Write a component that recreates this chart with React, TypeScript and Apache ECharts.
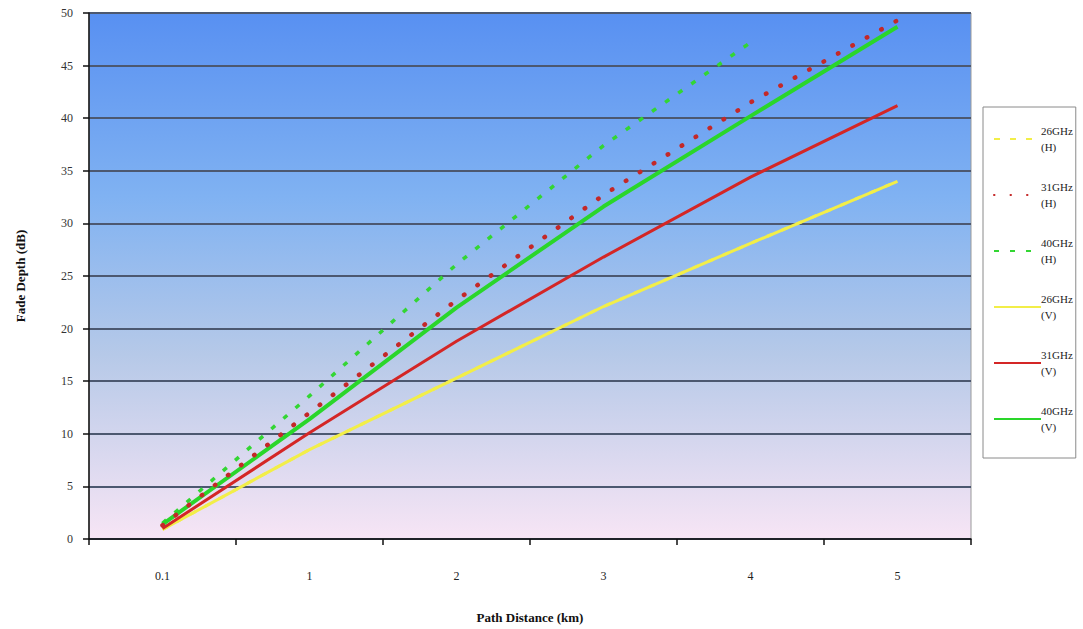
import React, { useEffect, useRef } from "react";
import * as echarts from "echarts";

const categories = ["0.1", "1", "2", "3", "4", "5"];
const seriesNames = ["26GHz\n(H)", "31GHz\n(H)", "40GHz\n(H)", "26GHz\n(V)", "31GHz\n(V)", "40GHz\n(V)"];
const h26 = [0.9, 8.5, 15.3, 22.1, 28.1, 34.0];
const h31 = [1.3, 12.0, 22.7, 32.7, 41.5, 49.3];
const h40 = [1.5, 13.6, 26.1, 37.4, 47.2, null];
const v26 = [0.9, 8.5, 15.3, 22.1, 28.1, 34.0];
const v31 = [1.0, 10.1, 18.8, 26.8, 34.4, 41.2];
const v40 = [1.4, 11.4, 22.0, 31.6, 40.2, 48.7];
const yTicks = { min: 0, max: 50, interval: 5 };

const FONT = "'Liberation Serif', 'DejaVu Serif', serif";

export default function App() {
  const ref = useRef<HTMLDivElement>(null);
  useEffect(() => {
    if (!ref.current) return;
    const chart = echarts.init(ref.current, undefined, { renderer: "svg" });
    const line = (name: string, data: (number | null)[], color: string, width: number, type: any, cap: any = "butt", z = 2) => ({
      name,
      type: "line",
      data,
      symbol: "none",
      z,
      lineStyle: { color, width, type, cap },
      itemStyle: { color },
    });
    chart.setOption({
      animation: false,
      backgroundColor: "#ffffff",
      grid: {
        left: 89,
        right: 112,
        top: 13,
        bottom: 84,
        show: true,
        borderColor: "#9a9a9a",
        borderWidth: 1,
        backgroundColor: {
          type: "linear",
          x: 0,
          y: 0,
          x2: 0,
          y2: 1,
          colorStops: [
            { offset: 0, color: "#5890f2" },
            { offset: 0.35, color: "#80b2f2" },
            { offset: 0.65, color: "#b6c9e8" },
            { offset: 1, color: "#f7e5f5" },
          ],
        },
      },
      legend: {
        orient: "vertical",
        left: 983,
        top: 107,
        itemWidth: 47,
        itemHeight: 10,
        itemGap: 8,
        padding: [8, 3, 15, 10],
        borderColor: "#8a8a8a",
        borderWidth: 1,
        backgroundColor: "#ffffff",
        itemStyle: { opacity: 0 },
        textStyle: { fontFamily: FONT, fontSize: 11, lineHeight: 16, color: "#222", padding: [16, 0, 0, -5] },
        data: seriesNames,
      },
      xAxis: {
        type: "category",
        data: categories,
        boundaryGap: true,
        name: "Path Distance (km)",
        nameLocation: "middle",
        nameGap: 72,
        nameTextStyle: { fontFamily: FONT, fontSize: 13, fontWeight: "bold", color: "#111" },
        axisLine: { lineStyle: { color: "#111", width: 1.5 } },
        axisTick: { show: true, length: 6, alignWithLabel: false, lineStyle: { color: "#111", width: 1.5 } },
        axisLabel: { fontFamily: FONT, fontSize: 12, color: "#222", margin: 31 },
        splitLine: { show: false },
      },
      yAxis: {
        type: "value",
        min: yTicks.min,
        max: yTicks.max,
        interval: yTicks.interval,
        name: "Fade Depth (dB)",
        nameLocation: "middle",
        nameGap: 62,
        nameTextStyle: { fontFamily: FONT, fontSize: 13, fontWeight: "bold", color: "#111" },
        axisLine: { show: true, lineStyle: { color: "#111", width: 1.5 } },
        axisTick: { show: true, length: 6, lineStyle: { color: "#111", width: 1.5 } },
        axisLabel: { fontFamily: FONT, fontSize: 12, color: "#333", margin: 16 },
        splitLine: { show: true, lineStyle: { color: "#4c5870", width: 2 } },
      },
      series: [
        line(seriesNames[0], h26, "#f2ee48", 3, [6, 10], "butt", 2),
        line(seriesNames[1], h31, "#c42828", 4.5, [0.5, 16], "round", 4),
        line(seriesNames[2], h40, "#33d633", 3.5, [5, 11], "butt", 2),
        line(seriesNames[3], v26, "#f2ee48", 3, "solid", "butt", 3),
        line(seriesNames[4], v31, "#d42626", 3, "solid", "butt", 3),
        line(seriesNames[5], v40, "#2ad62a", 4, "solid", "butt", 3),
      ],
    });
    return () => chart.dispose();
  }, []);
  return <div ref={ref} style={{ width: 1083, height: 629, position: "absolute", left: 0, top: 0 }} />;
}
